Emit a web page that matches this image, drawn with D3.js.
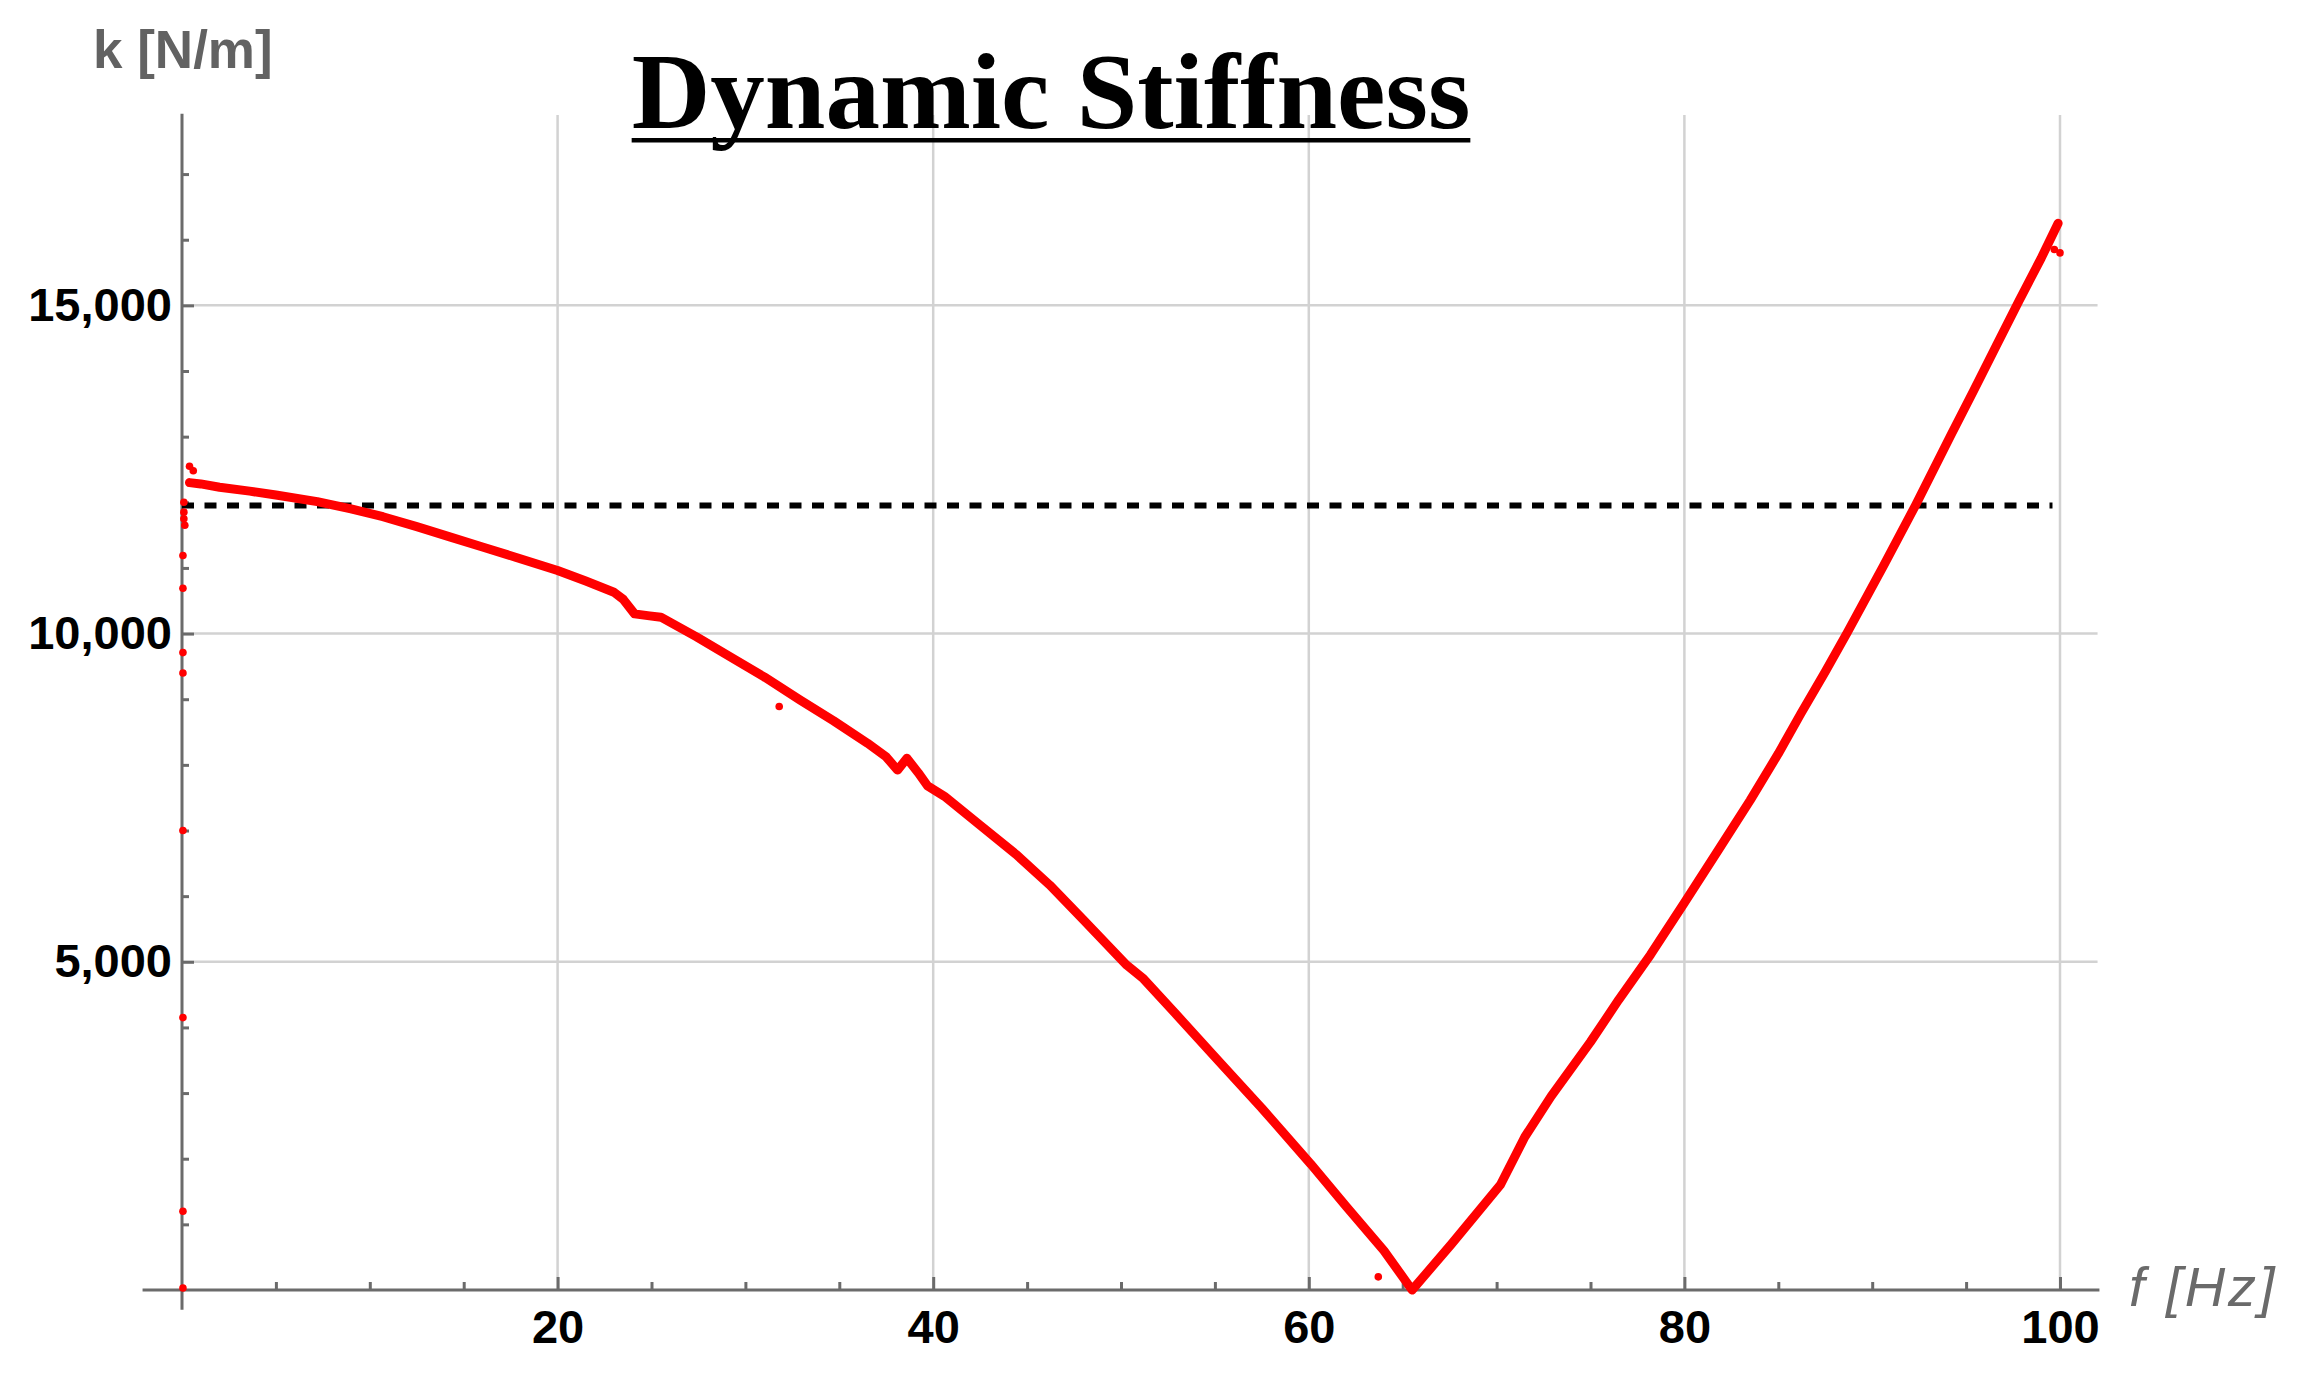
<!DOCTYPE html>
<html>
<head>
<meta charset="utf-8">
<script src="https://cdn.jsdelivr.net/npm/d3@7"></script>
<style>
  html, body { margin: 0; padding: 0; background: #ffffff; }
  svg { display: block; }
</style>
</head>
<body>
<svg id="chart" width="2299" height="1379"></svg>
<script>
// ---- data ----
const freq = [0.4, 1, 2, 3.6, 5, 7.2, 9, 10.7, 12.5, 14.3, 16, 17.8, 20, 21.5, 23, 23.5, 24.1, 24.9, 25.5, 27.4, 29.4, 31, 32.9, 34.7, 36.5, 37.5, 38.1, 38.6, 39.2, 39.7, 40.6, 42.5, 44.4, 46.2, 48, 50.3, 51.2, 53, 55.1, 57.5, 60.1, 62, 64, 65.5, 67.6, 70.2, 71.5, 72.9, 75, 76.5, 78.2, 80, 81.8, 83.5, 85, 86.2, 87.5, 88.7, 90.6, 92.3, 94.2, 95.4, 96.6, 97.8, 99, 99.9];
const stiffness = [12300, 12280, 12230, 12170, 12110, 12010, 11900, 11780, 11630, 11470, 11320, 11160, 10960, 10800, 10630, 10520, 10300, 10270, 10250, 9950, 9610, 9340, 8990, 8670, 8330, 8120, 7920, 8100, 7880, 7680, 7520, 7080, 6640, 6170, 5640, 4950, 4740, 4180, 3520, 2770, 1920, 1270, 600, 0, 700, 1600, 2330, 2950, 3780, 4420, 5110, 5900, 6700, 7460, 8170, 8780, 9420, 10030, 11030, 11950, 13030, 13700, 14380, 15060, 15720, 16250];
const outlierFreq = [0.1, 0.4, 0.6, 0.1, 0.1, 0.15, 0.05, 0.05, 0.05, 0.05, 0.05, 0.05, 0.05, 0.05, 31.8, 63.7, 99.7, 100];
const outlierK    = [12000, 12550, 12480, 11850, 11750, 11650, 11190, 10690, 9710, 9400, 7000, 4150, 1200, 30, 8890, 200, 15850, 15800];
const referenceK = 11950;
const xMajorTicks = [20, 40, 60, 80, 100];
const xMinorTicks = [5, 10, 15, 25, 30, 35, 45, 50, 55, 65, 70, 75, 85, 90, 95];
const yMajorTicks = [5000, 10000, 15000];
const yMinorTicks = [1000, 2000, 3000, 4000, 6000, 7000, 8000, 9000, 11000, 12000, 13000, 14000, 16000, 17000];
const titleText = "Dynamic Stiffness";
const yLabel = "k [N/m]";
const xLabel = "f [Hz]";

// ---- scales ----
const svg = d3.select("#chart");
const x = d3.scaleLinear().domain([0, 100]).range([182, 2060]);
const y = d3.scaleLinear().domain([0, 17900]).range([1290, 115]);

const axisColor = "#6b6b6b";
const gridColor = "#d2d2d2";
const tickFont = "'Liberation Sans', Arial, sans-serif";

// ---- gridlines ----
const grid = svg.append("g");
grid.selectAll("line.vg").data(xMajorTicks).join("line")
  .attr("x1", d => x(d)).attr("x2", d => x(d))
  .attr("y1", y(17900)).attr("y2", y(0))
  .attr("stroke", gridColor).attr("stroke-width", 2.5);
grid.selectAll("line.hg").data(yMajorTicks).join("line")
  .attr("x1", x(0)).attr("x2", x(102))
  .attr("y1", d => y(d)).attr("y2", d => y(d))
  .attr("stroke", gridColor).attr("stroke-width", 2.5);

// ---- axes lines ----
svg.append("line")
  .attr("x1", x(-2.1)).attr("x2", x(102.1))
  .attr("y1", y(0)).attr("y2", y(0))
  .attr("stroke", axisColor).attr("stroke-width", 3);
svg.append("line")
  .attr("x1", x(0)).attr("x2", x(0))
  .attr("y1", y(17920)).attr("y2", y(-300))
  .attr("stroke", axisColor).attr("stroke-width", 3);

// ---- ticks via d3 axes ----
const xMajorAxis = d3.axisBottom(x).tickValues(xMajorTicks).tickSize(-13).tickPadding(20).tickFormat(d3.format("d"));
const xMinorAxis = d3.axisBottom(x).tickValues(xMinorTicks).tickSize(-8).tickFormat("");
const yMajorAxis = d3.axisLeft(y).tickValues(yMajorTicks).tickSize(-12).tickPadding(10).tickFormat(d3.format(","));
const yMinorAxis = d3.axisLeft(y).tickValues(yMinorTicks).tickSize(-7).tickFormat("");

function styleAxis(g) {
  g.select(".domain").remove();
  g.selectAll(".tick line").attr("stroke", axisColor).attr("stroke-width", 3);
  g.selectAll(".tick text")
    .attr("fill", "#000").attr("font-family", tickFont)
    .attr("font-weight", "bold").attr("font-size", 47);
}
svg.append("g").attr("transform", `translate(0,${y(0)})`).call(xMinorAxis).call(styleAxis);
svg.append("g").attr("transform", `translate(0,${y(0)})`).call(xMajorAxis).call(styleAxis);
svg.append("g").attr("transform", `translate(${x(0)},0)`).call(yMinorAxis).call(styleAxis);
svg.append("g").attr("transform", `translate(${x(0)},0)`).call(yMajorAxis).call(styleAxis);

// ---- reference dashed line ----
svg.append("line")
  .attr("x1", x(0)).attr("x2", x(99.6))
  .attr("y1", y(referenceK)).attr("y2", y(referenceK))
  .attr("stroke", "#000").attr("stroke-width", 6)
  .attr("stroke-dasharray", "12,10.5");

// ---- red data curve ----
const pts = freq.map((f, i) => [f, stiffness[i]]);
const line = d3.line().x(d => x(d[0])).y(d => y(d[1])).curve(d3.curveLinear);
svg.append("path")
  .attr("d", line(pts))
  .attr("fill", "none").attr("stroke", "#ff0000")
  .attr("stroke-width", 9).attr("stroke-linejoin", "round").attr("stroke-linecap", "round");

const outliers = outlierFreq.map((f, i) => [f, outlierK[i]]);
svg.append("g").selectAll("circle").data(outliers).join("circle")
  .attr("cx", d => x(d[0])).attr("cy", d => y(d[1]))
  .attr("r", 3.8).attr("fill", "#ff0000");

// ---- axis labels ----
svg.append("text")
  .attr("x", 93).attr("y", 68)
  .attr("font-family", tickFont).attr("font-weight", "bold")
  .attr("font-size", 53).attr("fill", "#626262")
  .text(yLabel);

svg.append("text")
  .attr("x", 2129).attr("y", 1306)
  .attr("font-family", tickFont).attr("font-style", "italic")
  .attr("font-size", 56).attr("letter-spacing", 3).attr("fill", "#6a6a6a")
  .text(xLabel);

// ---- title with underline ----
const title = svg.append("text")
  .attr("x", 1051).attr("y", 128)
  .attr("text-anchor", "middle")
  .attr("font-family", "'Liberation Serif', 'Times New Roman', serif")
  .attr("font-weight", "bold").attr("font-size", 109)
  .attr("fill", "#000")
  .text(titleText);
const tb = title.node().getBBox();
svg.append("rect")
  .attr("x", tb.x).attr("y", 138)
  .attr("width", tb.width).attr("height", 4.5)
  .attr("fill", "#000");
</script>
</body>
</html>
